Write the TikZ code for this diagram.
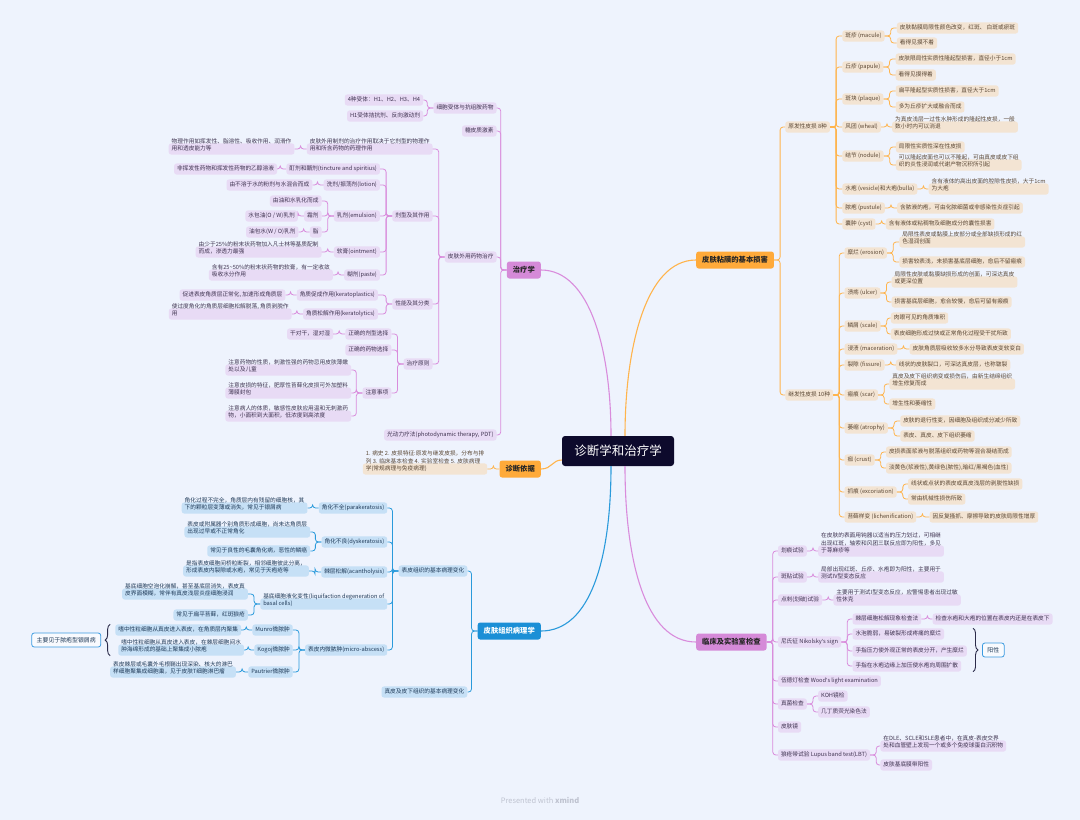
\documentclass[tikz,border=0pt]{standalone}
\usepackage{fontspec}
\setmainfont{Noto Sans CJK SC}
\newfontfamily\latfont{Noto Sans}
\usetikzlibrary{calc,decorations.pathreplacing}
\definecolor{bgc}{HTML}{EEF3FD}
\definecolor{rootc}{HTML}{0D0A2C}
\definecolor{mfO}{HTML}{FFAA3A}
\definecolor{lfO}{HTML}{F3E4D3}
\definecolor{txO}{HTML}{5A4734}
\definecolor{lcO}{HTML}{FFB44C}
\definecolor{mfP}{HTML}{D58AD8}
\definecolor{lfP}{HTML}{E8DBF5}
\definecolor{txP}{HTML}{3F3350}
\definecolor{lcP}{HTML}{D98CDC}
\definecolor{mfB}{HTML}{1B8FD6}
\definecolor{lfB}{HTML}{C6E0F6}
\definecolor{txB}{HTML}{1F3A58}
\definecolor{lcB}{HTML}{2A9ADB}
\definecolor{tagb}{HTML}{3C9BE0}
\definecolor{brcc}{HTML}{2B2B4A}
\definecolor{wmc}{HTML}{BFC3D0}
\newcommand{\apo}{{\latfont\symbol{39}}}
\tikzset{
 leafbase/.style={rounded corners=2.5pt, inner xsep=3pt, inner ysep=2.6pt,
   font=\fontsize{5.7}{7.6}\selectfont, align=left, text height=4.6pt, text depth=1.3pt},
 leafO/.style={leafbase, fill=lfO, text=txO},
 leafP/.style={leafbase, fill=lfP, text=txP},
 leafB/.style={leafbase, fill=lfB, text=txB},
 lnO/.style={draw=lcO, line width=0.8pt, rounded corners=3pt},
 lnP/.style={draw=lcP, line width=0.8pt, rounded corners=3pt},
 lnB/.style={draw=lcB, line width=0.8pt, rounded corners=3pt},
 mainbase/.style={rounded corners=2.5pt, inner xsep=6pt, inner ysep=0pt, minimum height=17pt,
   font=\bfseries\fontsize{7.3}{9}\selectfont},
 mainO/.style={mainbase, fill=mfO, text=black!85},
 mainP/.style={mainbase, fill=mfP, text=black!85},
 mainB/.style={mainbase, fill=mfB, text=white},
 mcO/.style={draw=lcO, line width=1.1pt},
 mcP/.style={draw=lcP, line width=1.1pt},
 mcB/.style={draw=lcB, line width=1.1pt},
 rootnode/.style={fill=rootc, text=white, rounded corners=3pt, minimum width=112pt,
   minimum height=30pt, font=\fontsize{12.5}{15}\selectfont},
 tagnode/.style={draw=tagb, fill=white!60!bgc, line width=0.8pt, rounded corners=2.5pt,
   text=txB, font=\fontsize{5.9}{7}\selectfont, inner xsep=5pt, minimum height=14pt},
 brc/.style={draw=brcc, line width=0.9pt},
}
\newcommand{\mmR}[6]{%
  \node[leaf#1, anchor=west] (#3) at ([shift={(#4,#5)}]#2.east) {#6};
  \draw[ln#1] (#2.east) -- ++(6,0) |- (#3.west);}
\newcommand{\mmL}[6]{%
  \node[leaf#1, anchor=east] (#3) at ([shift={(-#4,#5)}]#2.west) {#6};
  \draw[ln#1] (#2.west) -- ++(-6,0) |- (#3.east);}
\begin{document}
\begin{tikzpicture}[x=1pt,y=-1pt]
\fill[bgc] (0,0) rectangle (1080,820);
\useasboundingbox (0,0) rectangle (1080,820);

\node[rootnode] (root) at (618,451) {诊断学和治疗学};

% ---------------- orange: 皮肤粘膜的基本损害
\node[mainO, anchor=west] (O1) at (696,260) {皮肤粘膜的基本损害};
\draw[mcO] ([xshift=7pt]root.north) .. controls (625,350) and (645,260) .. (O1.west);
\mmR{O}{O1}{pri}{11}{-133}{原发性皮损 8种}
\mmR{O}{O1}{sec}{11}{135}{继发性皮损 10种}

\mmR{O}{pri}{mac}{12}{-91}{斑疹 (macule)}
\mmR{O}{mac}{mac1}{12}{-8}{皮肤黏膜局限性颜色改变，红斑、 白斑或瘀斑}
\mmR{O}{mac}{mac2}{12}{7}{看得见摸不着}
\mmR{O}{pri}{pap}{12}{-60}{丘疹 (papule)}
\mmR{O}{pap}{pap1}{12}{-8}{皮肤限局性实质性隆起型损害，直径小于1cm}
\mmR{O}{pap}{pap2}{12}{8}{看得见摸得着}
\mmR{O}{pri}{pla}{12}{-28}{斑块 (plaque)}
\mmR{O}{pla}{pla1}{12}{-8}{扁平隆起型实质性损害，直径大于1cm}
\mmR{O}{pla}{pla2}{12}{8}{多为丘疹扩大或融合而成}
\mmR{O}{pri}{whe}{12}{0}{风团 (wheal)}
\mmR{O}{whe}{whe1}{11}{0}{为真皮浅层一过性水肿形成的隆起性皮损，一般\\数小时内可以消退}
\mmR{O}{pri}{nod}{12}{29}{结节 (nodule)}
\mmR{O}{nod}{nod1}{12}{-9}{局限性实质性深在性皮损}
\mmR{O}{nod}{nod2}{12}{9}{可以隆起皮面也可以不隆起，可由真皮或皮下组\\织的炎性浸润或代谢产物沉积所引起}
\mmR{O}{pri}{ves}{12}{62}{水疱 (vesicle)和大疱(bulla)}
\mmR{O}{ves}{ves1}{11}{0}{含有液体的高出皮面的腔隙性皮损，大于1cm\\为大疱}
\mmR{O}{pri}{pus}{12}{81}{脓疱 (pustule)}
\mmR{O}{pus}{pus1}{12}{0}{含脓液的疱，可由化脓细菌或非感染性炎症引起}
\mmR{O}{pri}{cys}{12}{97}{囊肿 (cyst)}
\mmR{O}{cys}{cys1}{10}{0}{含有液体或粘稠物及细胞成分的囊性损害}

\mmR{O}{sec}{ero}{11}{-142}{糜烂 (erosion)}
\mmR{O}{ero}{ero1}{12}{-11}{局限性表皮或黏膜上皮部分或全部缺损形成的红\\色湿润创面}
\mmR{O}{ero}{ero2}{12}{9}{损害较表浅，未损害基底层细胞，愈后不留瘢痕}
\mmR{O}{sec}{ulc}{11}{-102}{溃疡 (ulcer)}
\mmR{O}{ulc}{ulc1}{11}{-11}{局限性皮肤或黏膜缺损形成的创面，可深达真皮\\或更深位置}
\mmR{O}{ulc}{ulc2}{11}{9}{损害基底层细胞，愈合较慢，愈后可留有瘢痕}
\mmR{O}{sec}{sca}{11}{-69}{鳞屑 (scale)}
\mmR{O}{sca}{sca1}{10}{-8}{肉眼可见的角质堆积}
\mmR{O}{sca}{sca2}{10}{8}{表皮细胞形成过快或正常角化过程受干扰所致}
\mmR{O}{sec}{mace}{11}{-46}{浸渍 (maceration)}
\mmR{O}{mace}{mace1}{12}{0}{皮肤角质层吸收较多水分导致表皮变软变白}
\mmR{O}{sec}{fis}{11}{-30}{裂隙 (fissure)}
\mmR{O}{fis}{fis1}{11}{0}{线状的皮肤裂口，可深达真皮层，也称皲裂}
\mmR{O}{sec}{scar}{11}{0}{瘢痕 (scar)}
\mmR{O}{scar}{scar1}{11}{-11}{真皮及皮下组织病变或损伤后，由新生结缔组织\\增生修复而成}
\mmR{O}{scar}{scar2}{11}{9}{增生性和萎缩性}
\mmR{O}{sec}{atr}{11}{33}{萎缩 (atrophy)}
\mmR{O}{atr}{atr1}{12}{-7}{皮肤的退行性变，因细胞及组织成分减少所致}
\mmR{O}{atr}{atr2}{12}{8}{表皮、真皮、皮下组织萎缩}
\mmR{O}{sec}{cru}{11}{65}{痂 (crust)}
\mmR{O}{cru}{cru1}{11}{-8}{皮损表面浆液与脱落组织或药物等混合凝结而成}
\mmR{O}{cru}{cru2}{11}{8}{淡黄色(浆液性),黄绿色(脓性),暗红/黑褐色(血性)}
\mmR{O}{sec}{exc}{11}{97}{抓痕 (excoriation)}
\mmR{O}{exc}{exc1}{11}{-8}{线状或点状的表皮或真皮浅层的剥脱性缺损}
\mmR{O}{exc}{exc2}{11}{7}{常由机械性损伤所致}
\mmR{O}{sec}{lic}{11}{122}{苔藓样变 (lichenification)}
\mmR{O}{lic}{lic1}{13}{0}{因反复搔抓、摩擦导致的皮肤局限性增厚}

% ---------------- purple right: 临床及实验室检查
\node[mainP, anchor=west] (P2) at (696,642) {临床及实验室检查};
\draw[mcP] ([xshift=7pt]root.south) .. controls (625,560) and (645,642) .. (P2.west);
\mmR{P}{P2}{hua}{11}{-91}{划痕试验}
\mmR{P}{hua}{hua1}{11}{0}{在皮肤的表面用钝器以适当的压力划过，可相继\\出现红斑，轴索和风团三联反应即为阳性，多见\\于荨麻疹等}
\mmR{P}{P2}{ban}{11}{-65}{斑贴试验}
\mmR{P}{ban}{ban1}{11}{0}{局部出现红斑、丘疹、水疱即为阳性，主要用于\\测试IV型变态反应}
\mmR{P}{P2}{dian}{11}{-42}{点刺(划破)试验}
\mmR{P}{dian}{dian1}{11}{0}{主要用于测试I型变态反应，应警惕患者出现过敏\\性休克}
\mmR{P}{P2}{nik}{11}{0}{尼氏征 Nikolsky\apo s sign}
\mmR{P}{nik}{nik1}{11}{-23}{棘层细胞松解现象检查法}
\mmR{P}{nik1}{nik1a}{11}{0}{检查水疱和大疱的位置在表皮内还是在表皮下}
\mmR{P}{nik}{nik2}{11}{-8}{水泡脆弱，易破裂形成疼痛的糜烂}
\mmR{P}{nik}{nik3}{11}{9}{手指压力使外观正常的表皮分开，产生糜烂}
\mmR{P}{nik}{nik4}{11}{24}{手指在水疱边缘上加压使水疱向周围扩散}
\mmR{P}{P2}{wood}{11}{39}{伍德灯检查 Wood\apo s light examination}
\mmR{P}{P2}{fun}{11}{62}{真菌检查}
\mmR{P}{fun}{fun1}{11}{-8}{KOH镜检}
\mmR{P}{fun}{fun2}{11}{8}{几丁质荧光染色法}
\mmR{P}{P2}{derm}{11}{85}{皮肤镜}
\mmR{P}{P2}{lbt}{11}{113}{狼疮带试验 Lupus band test(LBT)}
\mmR{P}{lbt}{lbt1}{10}{-9}{在DLE、SCLE和SLE患者中，在真皮-表皮交界\\处和血管壁上发现一个或多个免疫球蛋白沉积物}
\mmR{P}{lbt}{lbt2}{10}{10}{皮肤基底膜带阳性}
\coordinate (rbt) at ($(nik3.east |- nik2.north)+(6,0)$);
\coordinate (rbb) at ($(nik3.east |- nik4.south)+(6,0)$);
\draw[brc, decorate, decoration={brace, amplitude=5pt}] (rbt) -- (rbb);
\node[tagnode, anchor=west] (yang) at ($(rbt)!0.5!(rbb)+(9,0)$) {阳性};

% ---------------- purple left: 治疗学
\node[mainP, anchor=east] (T) at (541,270) {治疗学};
\draw[mcP] ([xshift=-7pt]root.north) .. controls (611,350) and (590,270) .. (T.east);
\mmL{P}{T}{rec}{10}{-162}{细胞受体与抗组胺药物}
\mmL{P}{rec}{rec1}{10}{-8}{4种受体：H1、H2、H3、H4}
\mmL{P}{rec}{rec2}{10}{8}{H1受体拮抗剂、反向激动剂}
\mmL{P}{T}{glu}{10}{-139}{糖皮质激素}
\mmL{P}{T}{ext}{10}{-13}{皮肤外用药物治疗}
\mmL{P}{ext}{ext1}{12}{-108}{皮肤外用制剂的治疗作用取决于它剂型的物理作\\用和所含药物的药理作用}
\mmL{P}{ext1}{ext1a}{12}{0}{物理作用如挥发性、脂溶性、吸收作用、润滑作\\用和透皮能力等}
\mmL{P}{ext}{form}{12}{-41}{剂型及其作用}
\mmL{P}{form}{tin}{12}{-47}{酊剂和醑剂(tincture and spiritius)}
\mmL{P}{tin}{tin1}{9}{0}{非挥发性药物和挥发性药物的乙醇溶液}
\mmL{P}{form}{lot}{12}{-31}{洗剂/振荡剂(lotion)}
\mmL{P}{lot}{lot1}{11}{0}{由不溶于水的粉剂与水混合而成}
\mmL{P}{form}{emu}{12}{0}{乳剂(emulsion)}
\mmL{P}{emu}{emu1}{12}{-15}{由油和水乳化而成}
\mmL{P}{emu}{emu2}{12}{0}{霜剂}
\mmL{P}{emu2}{emu2a}{6}{0}{水包油(O / W)乳剂}
\mmL{P}{emu}{emu3}{12}{16}{脂}
\mmL{P}{emu3}{emu3a}{11}{0}{油包水(W / O)乳剂}
\mmL{P}{form}{oin}{12}{36}{软膏(ointment)}
\mmL{P}{oin}{oin1}{12}{0}{由少于25\%的粉末状药物加入凡士林等基质配制\\而成，渗透力最强}
\mmL{P}{form}{pas}{12}{59}{糊剂(paste)}
\mmL{P}{pas}{pas1}{11}{0}{含有25\textasciitilde 50\%的粉末状药物的软膏，有一定收敛\\吸收水分作用}
\mmL{P}{ext}{prop}{12}{47}{性能及其分类}
\mmL{P}{prop}{kp}{14}{-9}{角质促成作用(keratoplastics)}
\mmL{P}{kp}{kp1}{11}{0}{促进表皮角质层正常化, 加速形成角质层}
\mmL{P}{prop}{kl}{14}{10}{角质松解作用(keratolytics)}
\mmL{P}{kl}{kl1}{11}{0}{使过度角化的角质层细胞松解脱落, 角质剥脱作\\用}
\mmL{P}{ext}{prin}{12}{107}{治疗原则}
\mmL{P}{prin}{pr1}{12}{-30}{正确的剂型选择}
\mmL{P}{pr1}{pr1a}{12}{0}{干对干，湿对湿}
\mmL{P}{prin}{pr2}{12}{-14}{正确的药物选择}
\mmL{P}{prin}{pr3}{12}{29}{注意事项}
\mmL{P}{pr3}{pr3a}{11}{-23}{注意药物的性质，刺激性强的药物忌用皮肤薄嫩\\处以及儿童}
\mmL{P}{pr3}{pr3b}{11}{0}{注意皮损的特征，肥厚性苔藓化皮损可外加塑料\\薄膜封包}
\mmL{P}{pr3}{pr3c}{11}{23}{注意病人的体质，敏感性皮肤应用温和无刺激药\\物，小面积到大面积，低浓度到高浓度}
\mmL{P}{T}{pdt}{10}{165}{光动力疗法(photodynamic therapy, PDT)}

% ---------------- orange left: 诊断依据
\node[mainO, anchor=east] (D) at (541,469) {诊断依据};
\draw[mcO] ([yshift=-9pt]root.west) .. controls (552,460) and (552,469) .. (D.east);
\mmL{O}{D}{D1}{12}{0}{1. 病史 2. 皮损特征:原发与继发皮损，分布与排\\列 3. 临床基本检查 4. 实验室检查 5. 皮肤病理\\学(常规病理与免疫病理)}

% ---------------- blue: 皮肤组织病理学
\node[mainB, anchor=east] (B) at (541,631) {皮肤组织病理学};
\draw[mcB] ([xshift=-7pt]root.south) .. controls (611,560) and (590,631) .. (B.east);
\mmL{B}{B}{epi}{10}{-60}{表皮组织的基本病理变化}
\mmL{B}{B}{der}{10}{61}{真皮及皮下组织的基本病理变化}
\mmL{B}{epi}{par}{11}{-63}{角化不全(parakeratosis)}
\mmL{B}{par}{par1}{11}{0}{角化过程不完全，角质层内有残留的细胞核，其\\下的颗粒层变薄或消失，常见于银屑病}
\mmL{B}{epi}{dys}{11}{-29}{角化不良(dyskeratosis)}
\mmL{B}{dys}{dys1}{11}{-10}{表皮或附属器个别角质形成细胞，尚未达角质层\\出现过早或不正常角化}
\mmL{B}{dys}{dys2}{11}{9}{常见于良性的毛囊角化病，恶性的鳞癌}
\mmL{B}{epi}{aca}{11}{1}{棘层松解(acantholysis)}
\mmL{B}{aca}{aca1}{12}{-1}{是指表皮细胞间桥粒断裂，相邻细胞彼此分离，\\形成表皮内裂隙或水疱，常见于天疱疮等}
\mmL{B}{epi}{liq}{11}{33}{基底细胞液化变性(liquifaction degeneration of\\basal cells)}
\mmL{B}{liq}{liq1}{12}{-10}{基底细胞空泡化崩解，甚至基底层消失，表皮真\\皮界面模糊，常伴有真皮浅层炎症细胞浸润}
\mmL{B}{liq}{liq2}{12}{11}{常见于扁平苔藓，红斑狼疮}
\mmL{B}{epi}{mic}{11}{79}{表皮内微脓肿(micro-abscess)}
\mmL{B}{mic}{mun}{12}{-20}{Munro微脓肿}
\mmL{B}{mun}{mun1}{11}{0}{嗜中性粒细胞从真皮进入表皮，在角质层内聚集}
\mmL{B}{mic}{kog}{12}{0}{Kogoj微脓肿}
\mmL{B}{kog}{kog1}{10}{0}{嗜中性粒细胞从真皮进入表皮，在棘层细胞间水\\肿海绵形成的基础上聚集成小脓疱}
\mmL{B}{mic}{pau}{12}{22}{Pautrier微脓肿}
\mmL{B}{pau}{pau1}{12}{0}{表皮棘层或毛囊外毛根鞘出现深染、核大的淋巴\\样细胞聚集成细胞巢，见于皮肤T细胞淋巴瘤}
\coordinate (lbt) at ($(mun1.north west)+(-5,0)$);
\coordinate (lbb) at (lbt |- kog1.south);
\draw[brc, decorate, decoration={brace, amplitude=5pt}] (lbb) -- (lbt);
\node[tagnode, anchor=east] (mainly) at ($(lbt)!0.5!(lbb)+(-9,0)$) {主要见于脓疱型银屑病};

% watermark
\node[text=wmc, font=\fontsize{7.5}{9}\selectfont] (wm) at (540,800) {Presented with \textbf{xmind}};
\end{tikzpicture}
\end{document}
